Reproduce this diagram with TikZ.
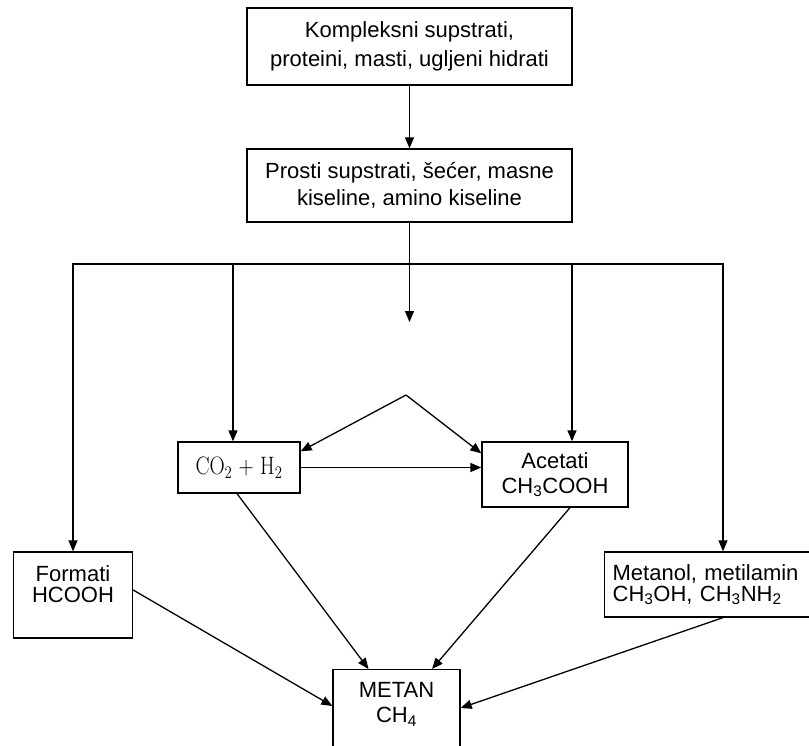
\documentclass[tikz,border=0pt]{standalone}
\usepackage{fontspec}
\setsansfont{Liberation Sans}
\usetikzlibrary{arrows.meta}
\begin{document}
\begin{tikzpicture}[x=1pt,y=-1pt,line width=1.3pt,
  font=\sffamily\fontsize{22}{27}\selectfont,
  >={Triangle[length=11pt,width=9pt]},
  box/.style={draw,align=center,inner sep=0pt}]
\useasboundingbox (0,0) rectangle (809,746);
\clip (0,0) rectangle (809,746);
\node[box,minimum width=325pt,minimum height=77pt,font=\sffamily\fontsize{22}{29}\selectfont] (kompleks) at (409.5,46.5) {Kompleksni supstrati,\\proteini, masti, ugljeni hidrati};
\node[box,minimum width=325pt,minimum height=73pt,font=\sffamily\fontsize{22}{27}\selectfont] (prosti) at (409.5,185.5) {Prosti supstrati, šećer, masne\\kiseline, amino kiseline};
\node[box,minimum width=122pt,minimum height=51pt,font=\rmfamily\fontsize{21}{24}\selectfont] (co2) at (239,467.5) {\scalebox{1}[1.2]{CO\textsubscript{2} + H\textsubscript{2}}};
\node[box,minimum width=146pt,minimum height=65pt,font=\sffamily\fontsize{22}{25}\selectfont] (acetati) at (555,474.5) {Acetati\\CH\textsubscript{3}COOH};
\node[box,minimum width=119pt,minimum height=86pt,text depth=22pt,font=\sffamily\fontsize{22}{21}\selectfont] (formati) at (73,595) {Formati\\HCOOH};
\node[box,anchor=west,align=left,text width=240pt,inner xsep=8pt,minimum height=65pt,font=\sffamily\fontsize{22}{21}\selectfont] (metanol) at (604,584.5) {Metanol, metilamin\\CH\textsubscript{3}OH, CH\textsubscript{3}NH\textsubscript{2}};
\node[box,anchor=north,minimum width=127pt,inner ysep=13pt,text depth=80pt,font=\sffamily\fontsize{22}{25}\selectfont] (metan) at (396.5,669) {METAN\\CH\textsubscript{4}};
\coordinate (lijevo) at (73,264);
\coordinate (grana2) at (233,264);
\coordinate (grana4) at (572,264);
\coordinate (desno) at (723,264);
\coordinate (kraj) at (409.5,322);
\coordinate (vrh) at (406,395);
\draw[->] (kompleks) -- (prosti);
\draw[->] (prosti) -- (kraj);
\draw (grana2) -- (grana4);
\draw[->] (grana2) -- (lijevo) -- (lijevo |- formati.north);
\draw[->] (grana4) -- (desno) -- (desno |- metanol.north);
\draw[->] (grana2) -- (grana2 |- co2.north);
\draw[->] (grana4) -- (grana4 |- acetati.north);
\draw[->] (vrh) -- ([yshift=-10pt]co2.north east);
\draw[->] (vrh) -- ([yshift=-12pt]acetati.north west);
\draw[->] (co2.east) -- (co2.east -| acetati.west);
\draw[->] ([xshift=-2pt]co2.south) -- ([xshift=-28pt]metan.north);
\draw[->] ([xshift=15pt]acetati.south) -- ([xshift=35.5pt]metan.north);
\draw[->] ([yshift=5pt]formati.east) -- ([yshift=-37pt]metan.north west);
\draw[->] (desno |- metanol.south) -- ([yshift=-39pt]metan.north east);
\end{tikzpicture}
\end{document}
